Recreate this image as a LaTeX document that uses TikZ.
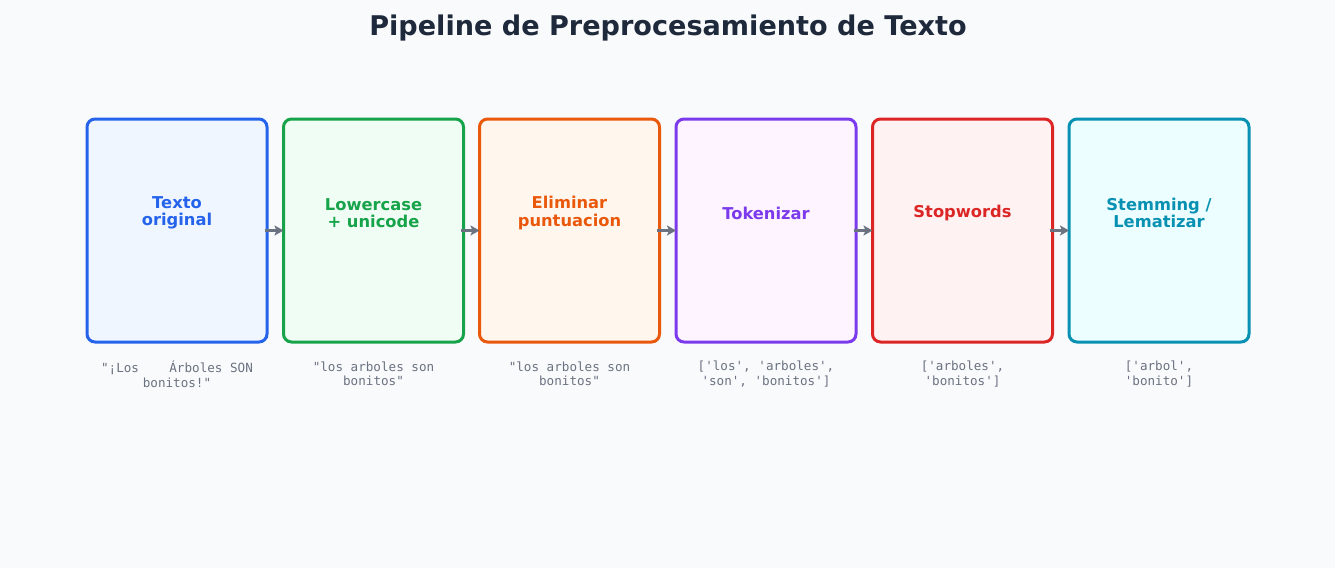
\documentclass[tikz,border=0pt]{standalone}
\usepackage{fontspec}
\setmainfont{DejaVu Sans}
\newfontfamily\capfont{DejaVu Sans Mono}
\usetikzlibrary{arrows.meta}
\definecolor{bgc}{HTML}{F8FAFC}
\definecolor{titlec}{HTML}{1E293B}
\definecolor{grayc}{HTML}{6B7280}
\definecolor{c1}{HTML}{2563EB}\definecolor{f1}{HTML}{EFF6FF}
\definecolor{c2}{HTML}{16A34A}\definecolor{f2}{HTML}{F0FDF4}
\definecolor{c3}{HTML}{EA580C}\definecolor{f3}{HTML}{FFF7ED}
\definecolor{c4}{HTML}{7C3AED}\definecolor{f4}{HTML}{FDF4FF}
\definecolor{c5}{HTML}{DC2626}\definecolor{f5}{HTML}{FEF2F2}
\definecolor{c6}{HTML}{0891B2}\definecolor{f6}{HTML}{ECFEFF}
\tikzset{
  stagebox/.style={draw=#1, line width=3pt, rounded corners=8pt, minimum width=180pt, minimum height=223pt, inner sep=0pt},
  stagelabel/.style={text=#1, font=\bfseries\fontsize{16.3}{17.5}\selectfont, align=center},
  caption/.style={text=grayc, font=\capfont\fontsize{12.6}{14.5}\selectfont, align=center},
  flow/.style={draw=grayc, line width=3pt, -{Stealth[length=9pt,width=10pt,inset=2pt]}, shorten <=-4pt, shorten >=-1.5pt}
}
\begin{document}
\begin{tikzpicture}[x=1pt,y=-1pt]
\fill[bgc] (0,0) rectangle (1335,568);
\useasboundingbox (0,0) rectangle (1335,568);
\node[text=titlec, font=\bfseries\fontsize{27.1}{30}\selectfont] (title) at (668,28.5) {Pipeline de Preprocesamiento de Texto};
\foreach \i/\x in {1/177,2/373.5,3/569.5,4/766,5/962.5,6/1159}{
  \node[stagebox=c\i, fill=f\i] (b\i) at (\x,230.5) {};
}
\node[stagelabel=c1] (l1) at (177,213) {Texto\\original};
\node[stagelabel=c2] (l2) at (373.5,213) {Lowercase\\+ unicode};
\node[stagelabel=c3] (l3) at (569.5,213) {Eliminar\\puntuacion};
\node[stagelabel=c4] (l4) at (766,213) {Tokenizar};
\node[stagelabel=c5] (l5) at (962.5,213) {Stopwords};
\node[stagelabel=c6] (l6) at (1159,213) {Stemming /\\Lematizar};
\node[caption] (t1) at (177,374) {"¡Los\ \ \ \ Árboles SON\\bonitos!"};
\node[caption] (t2) at (373.5,374) {"los arboles son\\bonitos"};
\node[caption] (t3) at (569.5,374) {"los arboles son\\bonitos"};
\node[caption] (t4) at (766,374) {['los', 'arboles',\\'son', 'bonitos']};
\node[caption] (t5) at (962.5,374) {['arboles',\\'bonitos']};
\node[caption] (t6) at (1159,374) {['arbol',\\'bonito']};
\foreach \a/\b in {1/2,2/3,3/4,4/5,5/6}{
  \draw[flow] (b\a.east) -- (b\b.west);
}
\end{tikzpicture}
\end{document}
